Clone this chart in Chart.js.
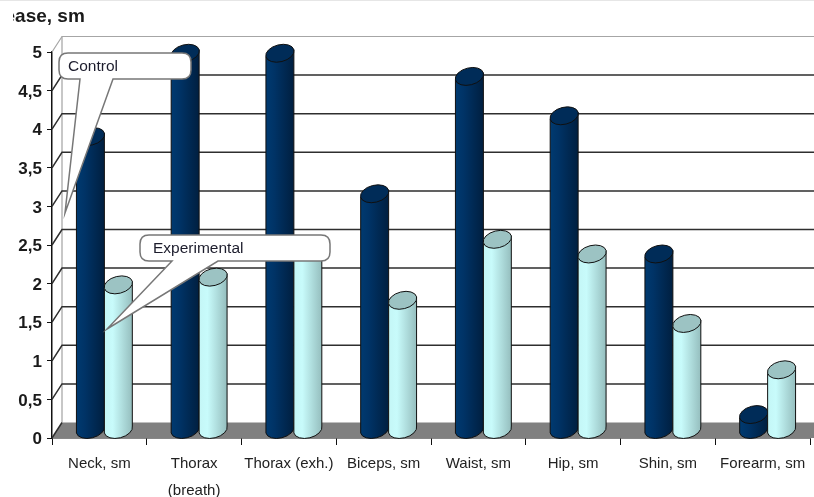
<!DOCTYPE html>
<html>
<head>
<meta charset="utf-8">
<title>Increase, sm</title>
<script src="https://cdn.jsdelivr.net/npm/chart.js@4/dist/chart.umd.min.js"></script>
<style>
    html, body { margin: 0; padding: 0; background: #fff; }
    canvas { display: block; }
</style>
</head>
<body>
<canvas id="chart-area" width="814" height="497"></canvas>
<script>
var categories = ['Neck, sm', ['Thorax', '(breath)'], 'Thorax (exh.)', 'Biceps, sm', 'Waist, sm', 'Hip, sm', 'Shin, sm', 'Forearm, sm'];
var control = [3.8, 4.88, 4.88, 3.06, 4.58, 4.07, 2.28, 0.2];
var experimental = [1.88, 1.98, 2.36, 1.68, 2.47, 2.28, 1.38, 0.78];
var yTickLabels = ['0', '0,5', '1', '1,5', '2', '2,5', '3', '3,5', '4', '4,5', '5'];

var FONT = '"Liberation Sans", Arial, sans-serif';
var DEPTH_X = 10, DEPTH_Y = 15.5; // skew of the back wall
var BAR_DX = 5, BAR_DY = 8;       // cylinders stand half way into the floor
var TILT = -14 * Math.PI / 180;

// walls, floor and grid lines behind the bars
var wallsPlugin = {
    id: 'walls',
    beforeDatasetsDraw: function (chart) {
        var ctx = chart.ctx, y = chart.scales.y, area = chart.chartArea;
        var left = area.left, right = 814, bottom = y.getPixelForValue(0);
        ctx.save();
        ctx.fillStyle = '#808080';
        ctx.beginPath();
        ctx.moveTo(left, bottom);
        ctx.lineTo(left + DEPTH_X, bottom - DEPTH_Y);
        ctx.lineTo(right, bottom - DEPTH_Y);
        ctx.lineTo(right, bottom);
        ctx.closePath();
        ctx.fill();

        ctx.strokeStyle = '#b4b4b4';
        ctx.lineWidth = 1.5;
        ctx.beginPath();
        ctx.moveTo(left + DEPTH_X, y.getPixelForValue(5) - DEPTH_Y);
        ctx.lineTo(left + DEPTH_X, bottom - DEPTH_Y);
        ctx.stroke();

        y.ticks.forEach(function (t) {
            var py = y.getPixelForValue(t.value);
            var top = t.value === 5;
            ctx.strokeStyle = top ? '#a6a6a6' : '#2e2e2e';
            ctx.lineWidth = top ? 1.2 : 1.5;
            ctx.beginPath();
            ctx.moveTo(left, py);
            ctx.lineTo(left + DEPTH_X, py - DEPTH_Y);
            if (t.value > 0) ctx.lineTo(right, py - DEPTH_Y);
            ctx.stroke();
        });

        // thin band at the very top of the shot
        ctx.fillStyle = '#e6e6e6';
        ctx.fillRect(0, 0, 814, 1);
        ctx.restore();
    }
};

function drawCylinder(ctx, bar, c) {
    var w = bar.width, cx = bar.x + BAR_DX;
    var x0 = cx - w / 2, x1 = cx + w / 2;
    var rx = (w / 2) / Math.cos(TILT), ry = 8.5;
    var topY = bar.y - BAR_DY, baseY = bar.base - BAR_DY;
    var dy = (w / 2) * Math.tan(TILT);

    var grad = ctx.createLinearGradient(x0, 0, x1, 0);
    grad.addColorStop(0, c.left);
    grad.addColorStop(0.3, c.mid);
    grad.addColorStop(1, c.right);

    ctx.save();
    ctx.beginPath();
    ctx.moveTo(x0, topY - dy);
    ctx.lineTo(x0, baseY - dy);
    ctx.ellipse(cx, baseY, rx, ry, TILT, Math.PI, 0, true);
    ctx.lineTo(x1, topY + dy);
    ctx.closePath();
    ctx.fillStyle = grad;
    ctx.fill();
    ctx.strokeStyle = '#101010';
    ctx.lineWidth = 1;
    ctx.stroke();

    ctx.beginPath();
    ctx.ellipse(cx, topY, rx, ry, TILT, 0, Math.PI * 2);
    ctx.fillStyle = c.top;
    ctx.fill();
    ctx.stroke();
    ctx.restore();
}

var cylindersPlugin = {
    id: 'cylinders',
    afterDatasetsDraw: function (chart) {
        var ctx = chart.ctx;
        chart.data.datasets.forEach(function (ds, i) {
            chart.getDatasetMeta(i).data.forEach(function (bar) {
                drawCylinder(ctx, bar, ds.cylinder);
            });
        });
    }
};

function callout(ctx, box, tail, text) {
    var r = 9;
    ctx.beginPath();
    ctx.moveTo(box.x + r, box.y);
    ctx.lineTo(box.x + box.w - r, box.y);
    ctx.quadraticCurveTo(box.x + box.w, box.y, box.x + box.w, box.y + r);
    ctx.lineTo(box.x + box.w, box.y + box.h - r);
    ctx.quadraticCurveTo(box.x + box.w, box.y + box.h, box.x + box.w - r, box.y + box.h);
    ctx.lineTo(tail.x1, box.y + box.h);
    ctx.lineTo(tail.tipX, tail.tipY);
    ctx.lineTo(tail.x0, box.y + box.h);
    ctx.lineTo(box.x + r, box.y + box.h);
    ctx.quadraticCurveTo(box.x, box.y + box.h, box.x, box.y + box.h - r);
    ctx.lineTo(box.x, box.y + r);
    ctx.quadraticCurveTo(box.x, box.y, box.x + r, box.y);
    ctx.closePath();
    ctx.fillStyle = '#fff';
    ctx.fill();
    ctx.strokeStyle = '#777';
    ctx.lineWidth = 1.5;
    ctx.stroke();
    ctx.fillStyle = '#1c1c2c';
    ctx.font = '15.5px ' + FONT;
    ctx.textAlign = 'left';
    ctx.textBaseline = 'middle';
    ctx.fillText(text, box.x + 9 + (box.w > 150 ? 4 : 0), box.y + box.h / 2 + 1);
}

var notesPlugin = {
    id: 'notes',
    afterDraw: function (chart) {
        var ctx = chart.ctx;
        ctx.save();
        callout(ctx, { x: 59, y: 53, w: 132, h: 26 }, { x0: 80, x1: 113, tipX: 65, tipY: 213 }, 'Control');
        callout(ctx, { x: 140, y: 235, w: 190, h: 26 }, { x0: 172, x1: 218, tipX: 107, tipY: 329 }, 'Experimental');

        // title, cut off by the left edge of the shot
        ctx.beginPath();
        ctx.rect(13, 0, 300, 32);
        ctx.clip();
        ctx.fillStyle = '#1a1a1a';
        ctx.font = 'bold 19px ' + FONT;
        ctx.textAlign = 'left';
        ctx.textBaseline = 'middle';
        ctx.fillText('ease, sm', 4.5, 17);
        ctx.restore();
    }
};

var ctx = document.getElementById('chart-area').getContext('2d');
window.myChart = new Chart(ctx, {
    type: 'bar',
    data: {
        labels: categories,
        datasets: [{
            label: 'Control',
            data: control,
            backgroundColor: 'transparent',
            cylinder: { left: '#003a70', mid: '#003366', right: '#001f40', top: '#002c58' }
        }, {
            label: 'Experimental',
            data: experimental,
            backgroundColor: 'transparent',
            cylinder: { left: '#c4f6f6', mid: '#c8fbfb', right: '#95bebe', top: '#9cc3c3' }
        }]
    },
    plugins: [wallsPlugin, cylindersPlugin, notesPlugin],
    options: {
        responsive: false,
        animation: false,
        layout: { padding: { top: 52, right: 4, left: 0, bottom: 0 } },
        plugins: { legend: { display: false }, title: { display: false }, tooltip: { enabled: false } },
        datasets: { bar: { categoryPercentage: 0.59, barPercentage: 1 } },
        scales: {
            x: {
                afterFit: function (s) { s.height = 59; },
                grid: { drawOnChartArea: false, color: '#111', tickLength: 7, offset: true },
                border: { color: '#111', width: 1.5 },
                ticks: {
                    autoSkip: false,
                    maxRotation: 0,
                    padding: 6,
                    color: '#222',
                    font: { family: FONT, size: 15, lineHeight: 1.75 }
                }
            },
            y: {
                min: 0,
                max: 5,
                afterFit: function (s) { s.width = 52; },
                grid: { drawOnChartArea: false, color: '#111', tickLength: 5 },
                border: { color: '#111', width: 1.5 },
                ticks: {
                    stepSize: 0.5,
                    padding: 5,
                    labelOffset: 1.5,
                    color: '#1a1a1a',
                    font: { family: FONT, size: 17, weight: 'bold' },
                    callback: function (v, i) { return yTickLabels[i]; }
                }
            }
        }
    }
});
</script>
</body>
</html>
